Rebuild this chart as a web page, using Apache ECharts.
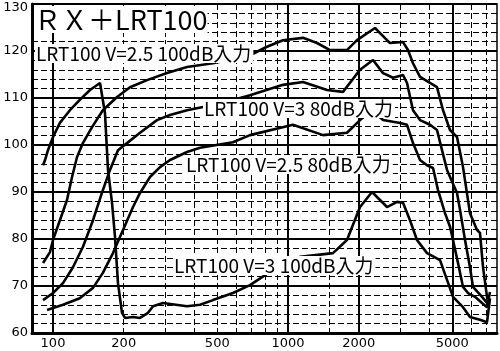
<!DOCTYPE html>
<html>
<head>
<meta charset="utf-8">
<script src="https://cdn.jsdelivr.net/npm/echarts@6.0.0/dist/echarts.min.js"></script>
<style>
  html, body { margin: 0; padding: 0; background: #fff; }
  #chart { width: 500px; height: 351px; }
</style>
</head>
<body>
<div id="chart"></div>
<script>
// frequency (Hz) / level (dB) pairs
const v3in100 = [
  [90.7, 95.7], [92.5, 96.8], [95.2, 98.9], [100, 101.7], [107, 104.7], [118, 107.4],
  [130, 109.6], [143.7, 111.7], [158.5, 113.2], [161.5, 112.8], [166.4, 106.8], [171.4, 94.7],
  [178.3, 87.7], [183.6, 80.4], [189, 70.6], [196.6, 64.3], [202.5, 63.2], [219, 63.4],
  [234.6, 63.2], [253.7, 64.3], [266.5, 65.7], [293.8, 66.4], [371.7, 65.7], [422.3, 66.0],
  [479.6, 67.0], [583, 68.5], [689, 70.2], [838, 73.0], [1125, 76.2], [1554, 77.0],
  [1782, 79.8], [2025, 86.8], [2278, 90.0], [2463, 88.3], [2638, 86.8], [2910, 87.9],
  [3086, 87.7], [3304, 84.0], [3539, 79.8], [3904, 77.0], [4435, 75.5], [4749, 71.3],
  [5036, 67.7], [5555, 65.5], [5947, 63.4], [6561, 62.8], [7028, 62.3], [7237, 67.4]
];
const v25in100 = [
  [90.7, 74.9], [97.1, 77.2], [100, 79.8], [107, 84.0], [114.7, 88.3], [120.5, 93.2],
  [126.5, 97.4], [134, 100.4], [146.6, 103.8], [163, 107.4], [187.3, 110.2], [212.7, 112.3],
  [251.2, 113.8], [305.6, 115.3], [371.7, 116.6], [479.6, 117.4], [689, 119.1], [813.8, 120.9],
  [952, 122.3], [1158, 122.8], [1329, 121.7], [1509, 120.2], [1782, 120.2], [1966, 122.3],
  [2345, 124.9], [2638, 122.3], [2716, 121.7], [3086, 121.9], [3240, 120.2], [3403, 117.4],
  [3645, 114.5], [4020, 113.2], [4305, 112.3], [4567, 107.4], [4890, 103.2], [5238, 101.7],
  [5555, 95.3], [5947, 85.5], [6371, 81.9], [6561, 81.3], [6758, 74.0], [7028, 67.7], [7163, 65.3]
];
const v3in80 = [
  [90.7, 67.0], [100, 68.5], [110.3, 70.6], [121.6, 74.0], [134, 78.3], [148, 84.0],
  [161.5, 89.8], [174.8, 94.7], [189, 98.9], [206.5, 100.4], [234.6, 102.6], [277, 105.3],
  [314.8, 106.4], [371.7, 107.4], [479.6, 108.5], [583, 109.6], [689, 110.6], [952, 112.8],
  [1158, 113.4], [1466, 111.7], [1714, 111.3], [2025, 116.0], [2300, 118.1], [2537, 115.3],
  [2798, 114.3], [3086, 114.9], [3209, 113.2], [3403, 107.4], [3645, 105.3], [4020, 104.3],
  [4305, 103.2], [4522, 98.9], [4749, 94.7], [5238, 89.8], [5394, 86.2], [5665, 79.8],
  [5947, 74.0], [6126, 69.8], [6692, 67.7], [7028, 66.4], [7163, 65.5]
];
const v25in80 = [
  [94.3, 64.9], [110.3, 66.0], [130, 67.4], [148, 69.6], [163, 72.8], [180, 77.0],
  [198.6, 81.9], [219, 86.8], [234.6, 89.8], [258.7, 93.2], [285.4, 95.3], [314.8, 96.8],
  [371.7, 98.5], [422.3, 99.4], [583, 100.6], [689, 102.1], [1050, 104.3], [1409, 102.1],
  [1782, 102.6], [2025, 105.3], [2278, 107.4], [2537, 105.3], [2998, 104.7], [3209, 104.3],
  [3403, 100.4], [3645, 96.8], [3904, 95.7], [4140, 95.1], [4348, 90.4], [4656, 85.5],
  [4890, 82.6], [5036, 79.8], [5289, 74.9], [5555, 69.8], [5832, 68.5], [6247, 67.7],
  [6692, 66.4], [7028, 65.5], [7237, 68.7]
];

const freqLabels = [100, 200, 500, 1000, 2000, 5000];
const heavyFreqs = [100, 1000, 2000, 5000];
const lightFreqs = [200, 300, 400, 500, 600, 700, 800, 900, 1500, 3000, 4000, 6000, 7000];

const titleText = "ＲＸ＋LRT100";
const curveNames = [
  "LRT100 V=2.5 100dB入力",
  "LRT100 V=3 80dB入力",
  "LRT100 V=2.5 80dB入力",
  "LRT100 V=3 100dB入力"
];

const chart = echarts.init(document.getElementById("chart"), null, { renderer: "canvas" });

const lineFont = "'Noto Sans CJK JP', 'Noto Sans', sans-serif";

function curve (data) {
  return {
    type: "line",
    data: data,
    showSymbol: false,
    silent: true,
    z: 5,
    lineStyle: { color: "#000", width: 2.6 }
  };
}

function note (text, x, y) {
  return {
    type: "text",
    left: x,
    top: y,
    z: 20,
    style: {
      text: text,
      fill: "#000",
      font: "19px " + lineFont,
      backgroundColor: "#fff",
      padding: [0, 2, 0, 1]
    }
  };
}

chart.setOption({
  animation: false,
  backgroundColor: "#fff",
  grid: {
    left: 32,
    right: 3,
    top: 4,
    bottom: 18,
    show: true,
    borderColor: "#000",
    borderWidth: 1.5,
    outerBoundsMode: "none"
  },
  xAxis: [
    {
      type: "log",
      logBase: 10,
      min: 81.4,
      max: 7750,
      axisLine: { show: true, lineStyle: { color: "#000", width: 3 } },
      axisTick: { show: false, customValues: heavyFreqs },
      axisLabel: {
        customValues: freqLabels,
        formatter: (v) => String(Math.round(v)),
        color: "#000",
        fontSize: 13,
        fontFamily: "DejaVu Sans",
        margin: 4
      },
      splitLine: { show: true, lineStyle: { color: "#000", width: 2 } }
    },
    {
      type: "log",
      logBase: 10,
      min: 81.4,
      max: 7750,
      position: "bottom",
      axisLine: { show: false },
      axisTick: { show: false, customValues: lightFreqs },
      axisLabel: { show: false },
      splitLine: { show: true, lineStyle: { color: "#000", width: 1, type: [6, 3] } }
    }
  ],
  yAxis: {
    type: "value",
    min: 60,
    max: 130,
    interval: 10,
    axisLine: { show: true, lineStyle: { color: "#000", width: 3 } },
    axisTick: { show: false },
    axisLabel: {
      color: "#000",
      fontSize: 13,
      fontFamily: "DejaVu Sans",
      margin: 4,
      // top label sits a little lower, inside the frame
      formatter: (v) => (v === 130 ? "{top|130}" : String(v)),
      rich: { top: { fontSize: 13, fontFamily: "DejaVu Sans", color: "#000", padding: [8, 0, 0, 0] } }
    },
    splitLine: { show: true, lineStyle: { color: "#000", width: 2.2 } },
    minorTick: { show: false, splitNumber: 5 },
    minorSplitLine: { show: true, lineStyle: { color: "#000", width: 1, type: [6, 3] } }
  },
  series: [
    curve(v3in100),
    curve(v25in100),
    curve(v3in80),
    curve(v25in80)
  ],
  graphic: [
    {
      type: "text",
      left: 34,
      top: 6,
      z: 20,
      style: {
        text: titleText,
        fill: "#000",
        font: "27px " + lineFont,
        backgroundColor: "#fff"
      }
    },
    note(curveNames[0], 35, 44),
    note(curveNames[1], 203, 99),
    note(curveNames[2], 185, 155),
    note(curveNames[3], 173, 256)
  ]
});
</script>
</body>
</html>
